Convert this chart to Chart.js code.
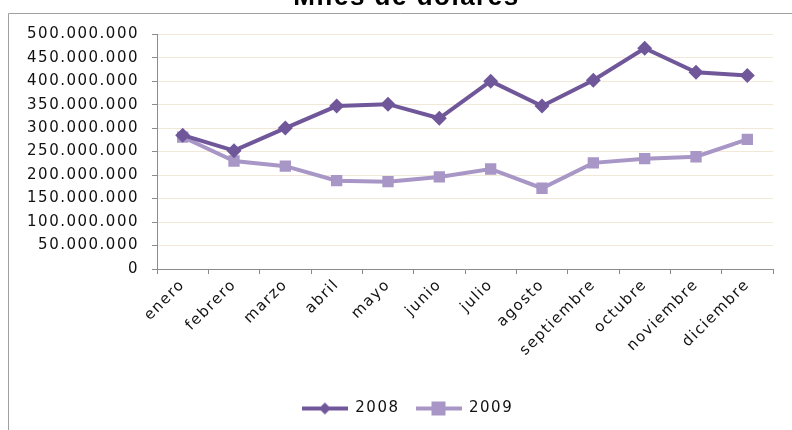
<!DOCTYPE html>
<html>
<head>
<meta charset="utf-8">
<script src="https://cdn.jsdelivr.net/npm/chart.js@4/dist/chart.umd.min.js"></script>
<style>
  html, body { margin: 0; padding: 0; background: #fff; overflow: hidden; }
  #wrap { position: relative; width: 792px; height: 430px; overflow: hidden; }
  #grafico { position: absolute; left: 0; top: -18px; }
</style>
</head>
<body>
<div id="wrap"><canvas id="grafico" width="792" height="448"></canvas></div>
<script>
// Datos del gráfico (miles de dólares por mes)
const meses = ['enero', 'febrero', 'marzo', 'abril', 'mayo', 'junio', 'julio', 'agosto', 'septiembre', 'octubre', 'noviembre', 'diciembre'];
const ventas2008 = [285000000, 252000000, 300000000, 347000000, 351000000, 321000000, 400000000, 347000000, 402000000, 470000000, 419000000, 412000000];
const ventas2009 = [281000000, 230000000, 219000000, 188000000, 186000000, 196000000, 213000000, 172000000, 226000000, 235000000, 239000000, 276000000];
const titulo = 'Miles de dolares';

const colorOscuro = '#70579a';
const colorClaro = '#a896c6';
const colorEje = '#8c8c8c';

// separador de miles con punto: 500.000.000
var formatoMiles = (v) => String(v).replace(/\B(?=(\d{3})+(?!\d))/g, '.');

// icono de leyenda: linea con el marcador en el centro
var iconoLeyenda = (color, forma) => {
  let c = document.createElement('canvas');
  c.width = 46; c.height = 16;
  let ctx = c.getContext('2d');
  ctx.strokeStyle = color;
  ctx.lineWidth = 4;
  ctx.beginPath();
  ctx.moveTo(0, 8); ctx.lineTo(46, 8);
  ctx.stroke();
  ctx.fillStyle = color;
  if (forma == 'rombo') {
    ctx.beginPath();
    ctx.moveTo(23, 2); ctx.lineTo(29, 8); ctx.lineTo(23, 14); ctx.lineTo(17, 8);
    ctx.closePath();
    ctx.fill();
  } else {
    ctx.fillRect(16, 1, 14, 14);
  }
  return c;
}
const iconos = [iconoLeyenda(colorOscuro, 'rombo'), iconoLeyenda(colorClaro, 'cuadro')];

// marco gris del area del grafico + espaciado de letras
const pluginMarco = {
  id: 'marco',
  beforeUpdate(chart) { chart.ctx.letterSpacing = '1.5px'; },
  afterLayout(chart) {
    // titulo y leyenda un poco corridos a la derecha, como en el original
    chart.titleBlock.left += 15; chart.titleBlock.right += 15;
    chart.legend.left += 16; chart.legend.right += 16;
  },
  beforeDraw(chart) {
    let ctx = chart.ctx;
    ctx.letterSpacing = '1.5px';
    ctx.save();
    ctx.strokeStyle = '#a0a0a0';
    ctx.lineWidth = 1;
    ctx.beginPath();
    ctx.moveTo(8.5, chart.height);
    ctx.lineTo(8.5, 31.5);
    ctx.lineTo(chart.width, 31.5);
    ctx.stroke();
    ctx.restore();
  }
};

new Chart(document.getElementById('grafico'), {
  type: 'line',
  data: {
    labels: meses,
    datasets: [{
      label: '2008',
      data: ventas2008,
      borderColor: colorOscuro,
      backgroundColor: colorOscuro,
      borderWidth: 4,
      pointStyle: 'rectRot',
      pointRadius: 7.5,
      pointBorderWidth: 0,
      tension: 0,
      order: 1
    }, {
      label: '2009',
      data: ventas2009,
      borderColor: colorClaro,
      backgroundColor: colorClaro,
      borderWidth: 4,
      pointStyle: 'rect',
      pointRadius: 8,
      pointBorderWidth: 0,
      tension: 0,
      order: 2
    }]
  },
  options: {
    responsive: false,
    animation: false,
    layout: { padding: { left: 10, right: 19, bottom: 4 } },
    plugins: {
      title: {
        display: true,
        text: titulo,
        color: '#000',
        font: { family: 'Liberation Sans', size: 26, weight: 'bold' },
        padding: { top: 0, bottom: 21 }
      },
      legend: {
        position: 'bottom',
        labels: {
          usePointStyle: true,
          pointStyleWidth: 46,
          color: '#111',
          font: { family: 'DejaVu Sans', size: 15 },
          padding: 16,
          generateLabels: (chart) => {
            let items = Chart.defaults.plugins.legend.labels.generateLabels(chart);
            items.forEach((it, i) => { it.pointStyle = iconos[i]; });
            return items;
          }
        }
      },
      tooltip: { enabled: false }
    },
    scales: {
      x: {
        offset: true,
        grid: { drawOnChartArea: false, drawTicks: true, tickLength: 5, tickColor: colorEje, offset: true },
        border: { color: colorEje, width: 1 },
        ticks: {
          minRotation: 45, maxRotation: 45,
          padding: 2,
          color: '#111',
          font: { family: 'DejaVu Sans', size: 15 }
        },
        afterFit: (scale) => { scale.height = 116; }
      },
      y: {
        min: 0,
        max: 500000000,
        grid: { color: '#f1e8d8', tickLength: 5, tickColor: colorEje },
        border: { color: colorEje, width: 1 },
        ticks: {
          stepSize: 50000000,
          padding: 13,
          color: '#111',
          font: { family: 'DejaVu Sans', size: 15 },
          callback: (v) => formatoMiles(v)
        },
        afterFit: (scale) => { scale.width = 147; }
      }
    }
  },
  plugins: [pluginMarco]
});
</script>
</body>
</html>
